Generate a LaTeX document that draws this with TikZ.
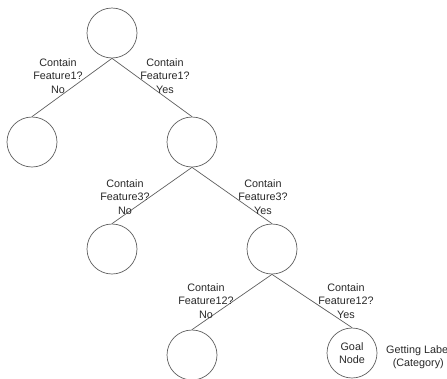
\documentclass[tikz,border=0pt]{standalone}
\usepackage{fontspec}
\setmainfont{Liberation Sans}
\definecolor{linegray}{RGB}{95,95,95}
\definecolor{txtgray}{RGB}{40,40,40}
\begin{document}
\begin{tikzpicture}[x=1pt,y=-1pt,
  treenode/.style={circle,draw=linegray,line width=0.7pt,minimum size=50pt,inner sep=0pt,
    align=center,text=txtgray,font=\fontsize{10.8pt}{13.4pt}\selectfont},
  edgelabel/.style={align=center,text=txtgray,inner sep=0pt,font=\fontsize{10.8pt}{13.4pt}\selectfont},
  branch/.style={draw=linegray,line width=0.7pt}]
\useasboundingbox (0,0) rectangle (447,378);
\clip (0,0) rectangle (447,378);
\node[treenode] (root) at (112,33) {};
\node[treenode] (a) at (32,142) {};
\node[treenode] (b) at (192,142) {};
\node[treenode] (c) at (112,249) {};
\node[treenode] (d) at (272,249) {};
\node[treenode] (e) at (192,355) {};
\node[treenode] (goal) at (352,353) {Goal\\Node};
\draw[branch] (root.south) -- (a.north);
\draw[branch] (root.south) -- (b.north);
\draw[branch] (b.south) -- (c.north);
\draw[branch] (b.south) -- (d.north);
\draw[branch] (d.south) -- (e.north);
\draw[branch] (d.south) -- (goal.north);
\node[edgelabel] (l1) at (58,76) {Contain\\Feature1?\\No};
\node[edgelabel] (l2) at (165,76) {Contain\\Feature1?\\Yes};
\node[edgelabel] (l3) at (125,197) {Contain\\Feature3?\\No};
\node[edgelabel] (l4) at (263,197) {Contain\\Feature3?\\Yes};
\node[edgelabel] (l5) at (206,301) {Contain\\Feature12?\\No};
\node[edgelabel] (l6) at (346,301) {Contain\\Feature12?\\Yes};
\node[edgelabel,anchor=west] (gl) at (386,357) {Getting Label\\(Category)};
\end{tikzpicture}
\end{document}
